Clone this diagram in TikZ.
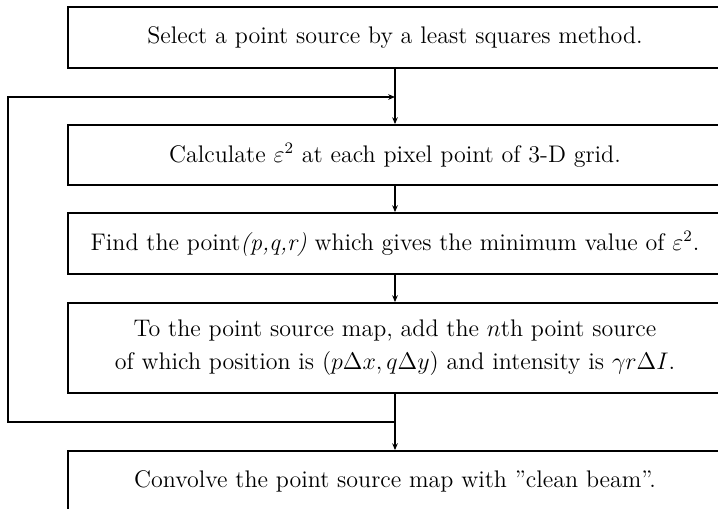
\documentclass[tikz,border=0pt]{standalone}
\usetikzlibrary{arrows.meta}
\begin{document}
\begin{tikzpicture}[x=0.5pt,y=-0.5pt,
  box/.style={draw,line width=0.9pt,minimum width=327pt,inner sep=0pt,align=center,
    font=\fontsize{12}{16.5}\selectfont},
  txt/.style={inner sep=0pt,align=center,font=\fontsize{12}{16.5}\selectfont},
  conn/.style={line width=0.9pt},
  arr/.style={line width=0.9pt,-{Stealth[length=3.4pt,width=2.8pt]}}]
\useasboundingbox (0,0) rectangle (718,509);
\clip (0,0) rectangle (718,509);
\node[box,minimum height=30.5pt] (b1) at (395,37.5) {Select a point source by a least squares method.};
\node[box,minimum height=30pt] (b2) at (395,155) {Calculate $\varepsilon^2$ at each pixel point of 3-D grid.};
\node[box,minimum height=30.5pt] (b3) at (395,243.5) {Find the point\textit{(p,q,r)} which gives the minimum value of $\varepsilon^2$.};
\node[box,minimum height=45pt] (b4) at (395,348) {To the point source map, add the $n$th point source\\of which position is $(p\Delta x,q\Delta y)$ and intensity is $\gamma r\Delta I$.};
\node[box,minimum height=40pt] (b5) at (395,491) {};
\node[txt] (t5) at (395,481) {Convolve the point source map with ''clean beam''.};
\coordinate (j1) at (395,97);
\coordinate (j2) at (395,422);
\coordinate (l1) at (8,97);
\coordinate (l2) at (8,422);
\draw[arr] (b1) -- (b2);
\draw[arr] (b2) -- (b3);
\draw[arr] (b3) -- (b4);
\draw[arr] (b4) -- (b5);
\draw[arr] (j2) -- (l2) -- (l1) -- (j1);
\end{tikzpicture}
\end{document}
